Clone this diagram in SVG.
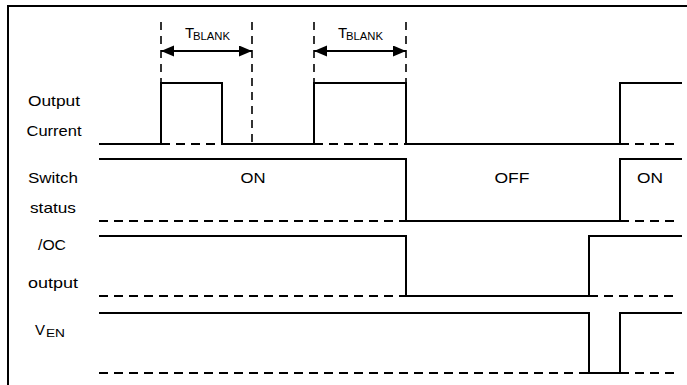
<svg xmlns="http://www.w3.org/2000/svg" width="687" height="385" viewBox="0 0 687 385">
<defs>
<marker id="ah" markerUnits="userSpaceOnUse" markerWidth="14" markerHeight="12" refX="13" refY="5.5" orient="auto-start-reverse">
<path d="M0,0 L13,5.5 L0,11 Z" fill="#000"/>
</marker>
<style>
.lbl{font-family:"Liberation Sans",Arial,sans-serif;font-size:15px;fill:#000;text-anchor:middle}
.sub{font-size:10px}
.w{fill:none;stroke:#000;stroke-width:2}
.d{fill:none;stroke:#000;stroke-width:1.8;stroke-dasharray:9 6}
.vd{fill:none;stroke:#000;stroke-width:1.6;stroke-dasharray:8 6}
.arr{fill:none;stroke:#000;stroke-width:2;marker-start:url(#ah);marker-end:url(#ah)}
</style>
</defs>
<rect width="687" height="385" fill="#fff"/>
<path id="frame" d="M8,385 V6 H687" fill="none" stroke="#000" stroke-width="2"/>

<g id="labels">
<text class="lbl" x="54" y="106" textLength="52" lengthAdjust="spacingAndGlyphs">Output</text>
<text class="lbl" x="54" y="136" textLength="55" lengthAdjust="spacingAndGlyphs">Current</text>
<text class="lbl" x="53" y="183" textLength="50" lengthAdjust="spacingAndGlyphs">Switch</text>
<text class="lbl" x="53" y="213" textLength="46" lengthAdjust="spacingAndGlyphs">status</text>
<text class="lbl" x="52" y="250" textLength="28" lengthAdjust="spacingAndGlyphs">/OC</text>
<text class="lbl" x="53" y="288" textLength="50" lengthAdjust="spacingAndGlyphs">output</text>
<text class="lbl" x="35" y="335" style="text-anchor:start">V<tspan class="sub" x="46" dy="2" textLength="19" lengthAdjust="spacingAndGlyphs">EN</tspan></text>
<text class="lbl" x="253" y="183" textLength="25" lengthAdjust="spacingAndGlyphs">ON</text>
<text class="lbl" x="512" y="183" textLength="35" lengthAdjust="spacingAndGlyphs">OFF</text>
<text class="lbl" x="650" y="183" textLength="26" lengthAdjust="spacingAndGlyphs">ON</text>
</g>

<g id="tblank1">
<path class="vd" d="M161,22 V144 M252,22 V144"/>
<line class="arr" x1="161" y1="51" x2="252" y2="51"/>
<text class="lbl" x="185" y="38" style="text-anchor:start">T<tspan class="sub" x="193" dy="2" textLength="37" lengthAdjust="spacingAndGlyphs">BLANK</tspan></text>
</g>
<g id="tblank2">
<path class="vd" d="M314,22 V144 M406,22 V144"/>
<line class="arr" x1="314" y1="51" x2="406" y2="51"/>
<text class="lbl" x="338" y="38" style="text-anchor:start">T<tspan class="sub" x="346" dy="2" textLength="37" lengthAdjust="spacingAndGlyphs">BLANK</tspan></text>
</g>

<g id="output-current">
<path class="w" d="M99,144 H161 V83 H222 V144 H314 V83 H406 V144 H620 V83 H682"/>
<path class="d" d="M161,144 H222 M314,144 H406 M620,144 H678"/>
</g>
<g id="switch-status">
<path class="w" d="M99,159 H406 V221 H620 V159 H682"/>
<path class="d" d="M99,221 H406 M620,221 H678"/>
</g>
<g id="oc-output">
<path class="w" d="M99,236 H406 V296 H589 V236 H682"/>
<path class="d" d="M99,296 H406 M589,296 H678"/>
</g>
<g id="ven">
<path class="w" d="M99,313 H589 V373 H620 V313 H682"/>
<path class="d" d="M99,373 H589 M620,373 H678"/>
</g>
</svg>
